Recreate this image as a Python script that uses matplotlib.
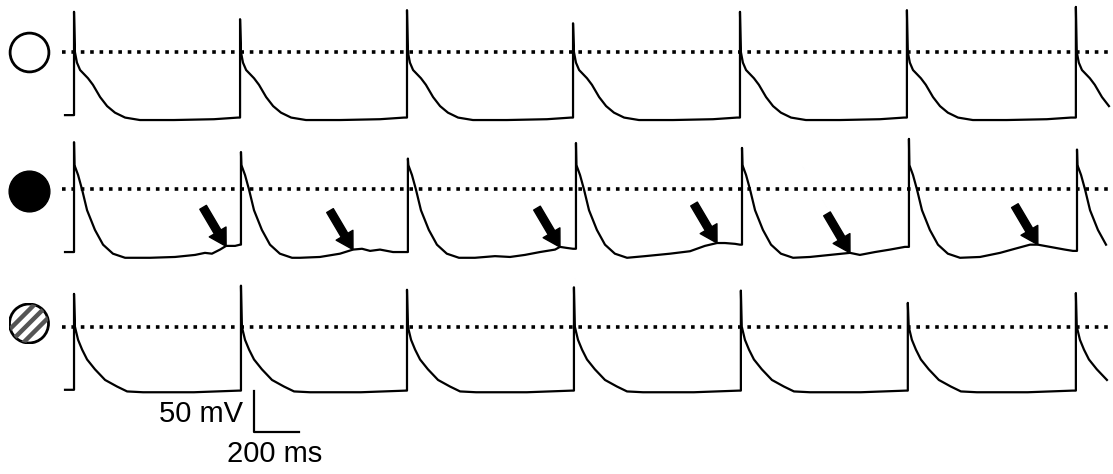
import numpy as np
import matplotlib.pyplot as plt
from matplotlib.patches import Circle

plt.rcParams['font.family'] = ['Liberation Sans', 'DejaVu Sans']

# ---- data (time in ms, voltage in mV) ----
t_end = 4640

# row 1: open circle (control)
onsets_1 = [40, 778, 1520, 2258, 3000, 3742, 4493]
peaks_1 = [49, 40, 51, 35, 49, 51, 55]
rest_1 = -77
ap1_t = [4, 13, 27, 62, 84, 116, 147, 182, 227, 293, 444, 622, 729]
ap1_v = [0, -13, -22, -32, -40, -55, -66, -74, -80, -83, -83, -82, -80]

# row 2: filled circle (with delayed afterdepolarisations)
onsets_2 = [40, 782, 1524, 2271, 3009, 3751, 4498]
peaks_2 = [57, 45, 37, 56, 50, 61, 48]
rest_2 = -77
ap2_t = [2, 18, 36, 58, 93, 129, 173, 227]
ap2_v = [29, 17, -1, -26, -50, -68, -79, -84]
dia2_t = [
    [378, 489, 578, 622, 653, 689, 716, 756, 778],
    [1044, 1133, 1222, 1280, 1320, 1356, 1400, 1458, 1520],
    [1822, 1911, 1978, 2044, 2111, 2178, 2200, 2231, 2258],
    [2578, 2689, 2778, 2844, 2898, 2933, 2978, 3000],
    [3311, 3400, 3489, 3533, 3600, 3667, 3733],
    [4067, 4156, 4222, 4289, 4324, 4378, 4444, 4480],
    [],
]
dia2_v = [
    [-84, -83, -80.5, -78, -79, -74, -69.5, -69.5, -68],
    [-84, -83, -79, -74, -73, -75.6, -74, -77, -77],
    [-84, -82, -83, -80.5, -77, -74, -70.7, -72, -73],
    [-82, -79, -76, -69.5, -66, -66, -67, -68],
    [-83, -80.5, -78, -80.5, -77, -74, -70.7],
    [-83, -78, -73, -68, -68, -70.7, -74, -75.6],
    [],
]
arrow_t = [716, 1280, 2200, 2898, 3489, 4324]
arrow_v = [-70, -74, -71, -66, -78, -68]

# row 3: hatched circle
onsets_3 = [40, 782, 1520, 2262, 3004, 3746, 4493]
peaks_3 = [40, 50, 45, 48, 44, 29, 41]
rest_3 = -77
ap3_t = [4, 18, 36, 58, 93, 138, 191, 236, 307, 533, 733]
ap3_v = [0, -16, -28, -40, -52, -65, -73, -79, -80, -80, -78]

# scale bar
bar_ms = 200
bar_mv = 50


def build_trace(onsets, peaks, rest, ap_t, ap_v, dia_t=None, dia_v=None):
    t = [0]
    v = [rest]
    for i, (on, pk) in enumerate(zip(onsets, peaks)):
        t += [on, on]
        v += [v[-1], pk]
        nxt = onsets[i + 1] if i + 1 < len(onsets) else t_end + 1
        for dt, dv in zip(ap_t, ap_v):
            if on + dt < nxt and on + dt <= t_end:
                t.append(on + dt)
                v.append(dv)
        if dia_t is not None:
            for dt, dv in zip(dia_t[i], dia_v[i]):
                if dt < nxt:
                    t.append(dt)
                    v.append(dv)
    return np.array(t), np.array(v)


offsets = [0, -167, -335]

fig = plt.figure(figsize=(11.13, 4.74), dpi=100)
ax = fig.add_axes([0, 0, 1, 1])
ax.set_xlim(-289, 4658)
ax.set_ylim(-514.7, 63.4)
ax.axis('off')

traces = [
    build_trace(onsets_1, peaks_1, rest_1, ap1_t, ap1_v),
    build_trace(onsets_2, peaks_2, rest_2, ap2_t, ap2_v, dia2_t, dia2_v),
    build_trace(onsets_3, peaks_3, rest_3, ap3_t, ap3_v),
]

for (t, v), off in zip(traces, offsets):
    ax.plot([-13, 4700], [off, off], color='black', lw=2.6,
            linestyle=(0, (1.0, 1.6)), solid_capstyle='butt')
    ax.plot(t, v + off, color='black', lw=1.6, solid_joinstyle='round')

# condition symbols
sym_x = -160
ax.scatter([sym_x], [offsets[0]], s=780, facecolor='white', edgecolor='black', linewidth=2)
ax.scatter([sym_x], [offsets[1] - 2], s=860, facecolor='black', edgecolor='black', linewidth=1)

# hatched symbol drawn in its own little square axes
sax = fig.add_axes([8.5 / 1113, (474 - 344) / 474, 41 / 1113, 41 / 474])
sax.set_xlim(0, 41)
sax.set_ylim(0, 41)
sax.axis('off')
disc = Circle((20.5, 20.5), 19.5, facecolor='white', edgecolor='none')
sax.add_patch(disc)
xs = np.array([-5, 46])
for c in [-13.5, 0, 13.5]:
    ln, = sax.plot(xs, xs + c, color='#555555', lw=3.2, solid_capstyle='butt')
    ln.set_clip_path(disc)
sax.add_patch(Circle((20.5, 20.5), 19.5, facecolor='none', edgecolor='black', lw=2))

# arrows pointing at the afterdepolarisations
for at, av in zip(arrow_t, arrow_v):
    ax.annotate('', xy=(at, av + offsets[1]), xytext=(-23, 39), textcoords='offset pixels',
                arrowprops=dict(facecolor='black', edgecolor='black', width=5.5,
                                headwidth=14, headlength=12, shrink=0))

# scale bar
bx = 840
by = offsets[2] - 79
ax.plot([bx, bx, bx + bar_ms], [by, by - bar_mv, by - bar_mv], color='black', lw=1.6)
ax.text(bx - 49, by - bar_mv / 2 - 2, '50 mV', fontsize=21, ha='right', va='center')
ax.text(bx - 118, by - bar_mv - 26, '200 ms', fontsize=21, ha='left', va='center')

fig.savefig('out.png', dpi=100)
